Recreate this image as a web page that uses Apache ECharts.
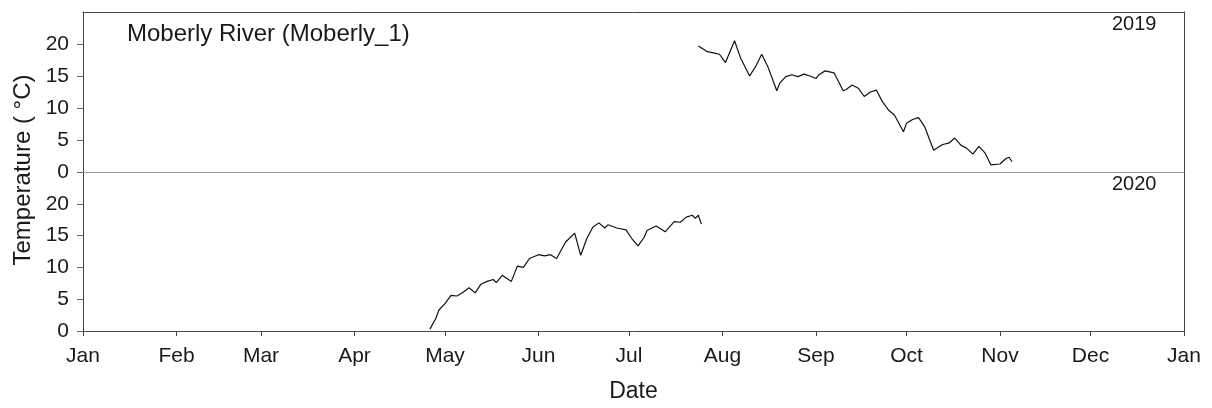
<!DOCTYPE html>
<html><head><meta charset="utf-8">
<script src="https://cdn.jsdelivr.net/npm/echarts@6/dist/echarts.min.js"></script>
<style>html,body{margin:0;padding:0;background:#fff}#c{width:1212px;height:408px}</style>
</head><body><div id="c"></div>
<script>
const monthLabels = ['Jan','Feb','Mar','Apr','May','Jun','Jul','Aug','Sep','Oct','Nov','Dec','Jan'];
const monthStarts = [0,31,59,90,120,151,181,212,243,273,304,334,365];
const yTicks = [0,5,10,15,20];

const dates2019 = ['2019-07-24','2019-07-27','2019-07-29','2019-07-31','2019-08-02','2019-08-05','2019-08-07','2019-08-10','2019-08-12','2019-08-14','2019-08-16','2019-08-19','2019-08-20','2019-08-22','2019-08-24','2019-08-26','2019-08-28','2019-08-30','2019-09-01','2019-09-02','2019-09-04','2019-09-07','2019-09-10','2019-09-11','2019-09-13','2019-09-15','2019-09-17','2019-09-19','2019-09-21','2019-09-23','2019-09-25','2019-09-27','2019-09-30','2019-10-01','2019-10-03','2019-10-05','2019-10-07','2019-10-10','2019-10-11','2019-10-13','2019-10-15','2019-10-17','2019-10-19','2019-10-21','2019-10-23','2019-10-25','2019-10-27','2019-10-29','2019-11-01','2019-11-03','2019-11-04','2019-11-05'];
const temps2019 = [19.7,18.8,18.6,18.4,17.1,20.5,17.8,15.0,16.5,18.4,16.5,12.7,13.9,14.9,15.2,14.9,15.3,15.0,14.6,15.2,15.8,15.5,12.7,12.9,13.6,13.1,11.8,12.5,12.8,11.0,9.7,8.9,6.3,7.6,8.2,8.5,7.1,3.4,3.7,4.3,4.5,5.3,4.2,3.7,2.8,4.0,3.0,1.1,1.25,2.1,2.3,1.6];

const dates2020 = ['2020-04-26','2020-04-28','2020-04-29','2020-05-01','2020-05-03','2020-05-05','2020-05-07','2020-05-09','2020-05-11','2020-05-13','2020-05-15','2020-05-17','2020-05-18','2020-05-20','2020-05-23','2020-05-25','2020-05-27','2020-05-29','2020-06-01','2020-06-03','2020-06-05','2020-06-07','2020-06-10','2020-06-13','2020-06-15','2020-06-17','2020-06-19','2020-06-21','2020-06-23','2020-06-24','2020-06-27','2020-06-30','2020-07-02','2020-07-04','2020-07-06','2020-07-07','2020-07-10','2020-07-13','2020-07-16','2020-07-18','2020-07-20','2020-07-22','2020-07-23','2020-07-24','2020-07-25'];
const temps2020 = [0.3,2.0,3.3,4.3,5.6,5.5,6.1,6.8,6.0,7.4,7.8,8.1,7.6,8.75,7.8,10.2,10.0,11.4,12.0,11.8,12.0,11.4,14.0,15.4,11.9,14.5,16.3,17.0,16.2,16.7,16.2,15.9,14.5,13.4,14.7,15.8,16.5,15.6,17.2,17.1,17.9,18.2,17.7,18.2,16.8];

// day of the year on a common (non-leap) calendar axis
function doy(s){ const p = s.split('-').map(Number); return (Date.UTC(2019,p[1]-1,p[2]) - Date.UTC(2019,0,1))/86400000; }
const pts = (ds, ts) => ds.map((d,i)=>[doy(d), ts[i]]);

const FONT = 'Liberation Sans';
const TXT = '#1a1a1a';
const dark = {onZero:false, lineStyle:{color:'#444', width:1}};

const chart = echarts.init(document.getElementById('c'), null, {renderer:'canvas'});
chart.setOption({
  animation:false,
  backgroundColor:'#fff',
  textStyle:{fontFamily:FONT},
  title:[
    {text:'Moberly River (Moberly_1)', left:122, top:17, textStyle:{fontFamily:FONT, fontSize:24, fontWeight:'normal', color:TXT}},
    {text:'2019', left:1107, top:9, textStyle:{fontFamily:FONT, fontSize:20, fontWeight:'normal', color:TXT}},
    {text:'2020', left:1107, top:169, textStyle:{fontFamily:FONT, fontSize:20, fontWeight:'normal', color:TXT}}
  ],
  grid:[
    {left:83, top:12, width:1101, height:160},
    {left:83, top:172, width:1101, height:159}
  ],
  xAxis:[
    {gridIndex:0, type:'value', min:0, max:365, position:'bottom', axisLine:{show:true, onZero:false, lineStyle:{color:'#9a9a9a', width:1.2}}, axisTick:{show:false}, axisLabel:{show:false}, splitLine:{show:false}},
    {gridIndex:0, type:'value', min:0, max:365, position:'top', axisLine:{show:true, ...dark}, axisTick:{show:false}, axisLabel:{show:false}, splitLine:{show:false}},
    {gridIndex:1, type:'value', min:0, max:365, position:'bottom',
      axisLine:{show:true, ...dark},
      axisTick:{show:true, customValues:monthStarts, length:5, lineStyle:{color:'#444'}},
      axisLabel:{show:true, customValues:monthStarts, margin:15, fontSize:21, color:TXT, fontFamily:FONT,
        formatter:(v)=>{const i = monthStarts.indexOf(Math.round(v)); return i>=0 ? monthLabels[i] : '';}},
      splitLine:{show:false},
      name:'Date', nameLocation:'middle', nameGap:49, nameTextStyle:{fontSize:23, color:TXT, fontFamily:FONT}}
  ],
  yAxis:[
    {gridIndex:0, type:'value', min:0, max:25, position:'left', axisLine:{show:true, ...dark},
      axisTick:{show:true, customValues:yTicks, length:6, lineStyle:{color:'#666'}},
      axisLabel:{show:true, customValues:yTicks, margin:14, fontSize:21, color:TXT, fontFamily:FONT},
      splitLine:{show:false}},
    {gridIndex:0, type:'value', min:0, max:25, position:'right', axisLine:{show:true, ...dark}, axisTick:{show:false}, axisLabel:{show:false}, splitLine:{show:false}},
    {gridIndex:1, type:'value', min:0, max:25, position:'left', axisLine:{show:true, ...dark},
      axisTick:{show:true, customValues:yTicks, length:6, lineStyle:{color:'#666'}},
      axisLabel:{show:true, customValues:yTicks, margin:14, fontSize:21, color:TXT, fontFamily:FONT},
      splitLine:{show:false}},
    {gridIndex:1, type:'value', min:0, max:25, position:'right', axisLine:{show:true, ...dark}, axisTick:{show:false}, axisLabel:{show:false}, splitLine:{show:false}}
  ],
  graphic:[
    {type:'text', x:23, y:170, rotation:Math.PI/2, style:{text:'Temperature ( °C)', fontFamily:FONT, fontSize:24, fill:TXT, align:'center', verticalAlign:'middle'}}
  ],
  series:[
    {type:'line', name:'2019', xAxisIndex:0, yAxisIndex:0, data:pts(dates2019,temps2019), showSymbol:false, symbol:'none', lineStyle:{color:'#111', width:1.2}},
    {type:'line', name:'2020', xAxisIndex:2, yAxisIndex:2, data:pts(dates2020,temps2020), showSymbol:false, symbol:'none', lineStyle:{color:'#111', width:1.2}}
  ]
});
</script></body></html>
